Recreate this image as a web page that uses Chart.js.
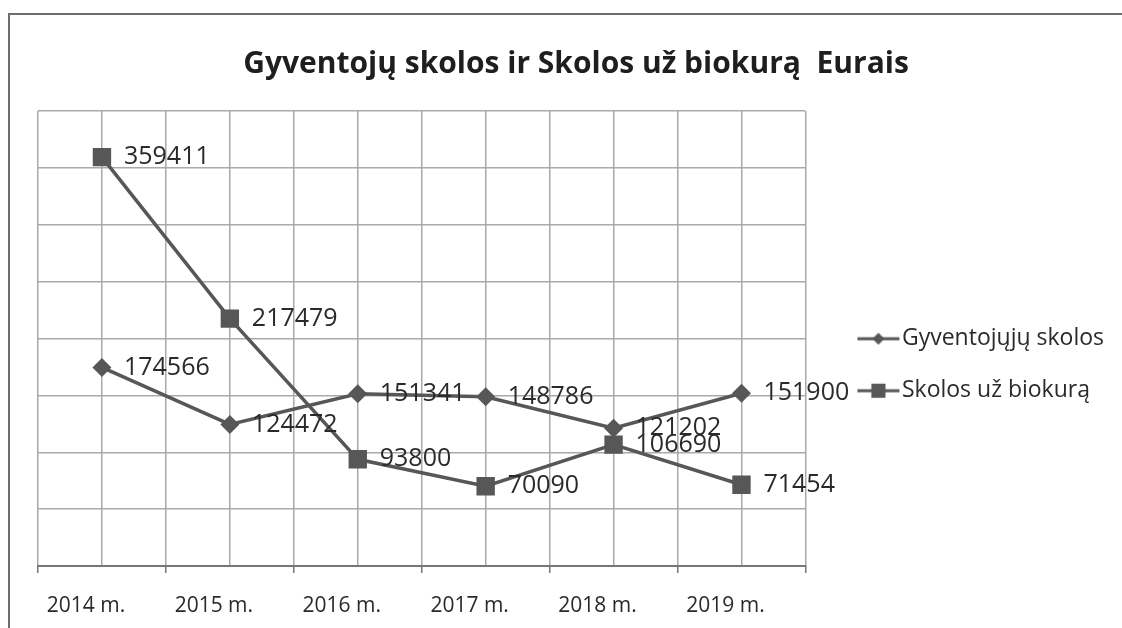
<!DOCTYPE html>
<html lang="lt">
<head>
<meta charset="utf-8">
<title>Gyventojų skolos ir Skolos už biokurą</title>
<script src="https://cdn.jsdelivr.net/npm/chart.js@4.4.1/dist/chart.umd.min.js"></script>
<style>
  html, body { margin: 0; padding: 0; background: #fff; }
  #wrap { position: relative; width: 1122px; height: 628px; overflow: hidden; }
  #frame { position: absolute; left: 8px; top: 13px; right: -4px; bottom: -4px;
           border-left: 2px solid #6e6e6e; border-top: 2px solid #6e6e6e; }
  #chart { position: absolute; left: 0; top: 0; }
</style>
</head>
<body>
<div id="wrap">
  <div id="frame"></div>
  <canvas id="chart" width="1122" height="628"></canvas>
</div>
<script>
// duomenys
const metai = ["2014 m.", "2015 m.", "2016 m.", "2017 m.", "2018 m.", "2019 m."];
const gyventojuSkolos = [174566, 124472, 151341, 148786, 121202, 151900];
const biokuroSkolos = [359411, 217479, 93800, 70090, 106690, 71454];
const serijuPavadinimai = ["Gyventojųjų skolos", "Skolos už biokurą"];
const yMin = 0;
const yMax = 400000;
const yZingsnis = 50000;

const linijosSpalva = "#575757";
const tinkloSpalva = "#a9a9a9";
const tekstoSpalva = "#2a2a2a";
const srift = "'Open Sans', 'DejaVu Sans', sans-serif";

Chart.defaults.font.family = srift;
Chart.defaults.color = tekstoSpalva;

// legendos ženkliukas: linija su tašku viduryje
function legendosZenklas(stilius, spindulys) {
  const c = document.createElement("canvas");
  c.width = 80;
  c.height = 24;
  const g = c.getContext("2d");
  g.strokeStyle = linijosSpalva;
  g.lineWidth = 3;
  g.beginPath();
  g.moveTo(35, 12);
  g.lineTo(77, 12);
  g.stroke();
  g.fillStyle = linijosSpalva;
  Chart.helpers.drawPoint(g, { pointStyle: stilius, radius: spindulys, borderWidth: 0 }, 56, 12);
  return c;
}

// reikšmės šalia taškų
const reiksmiuEtiketes = {
  id: "reiksmiuEtiketes",
  afterDatasetsDraw(chart) {
    const ctx = chart.ctx;
    ctx.save();
    ctx.font = "25px " + srift;
    ctx.fillStyle = tekstoSpalva;
    ctx.textAlign = "left";
    ctx.textBaseline = "middle";
    chart.data.datasets.forEach((ds, i) => {
      chart.getDatasetMeta(i).data.forEach((pt, j) => {
        ctx.fillText(String(ds.data[j]), pt.x + 22, pt.y);
      });
    });
    ctx.restore();
  }
};

const ctx = document.getElementById("chart").getContext("2d");
new Chart(ctx, {
  type: "line",
  data: {
    labels: metai,
    datasets: [
      {
        label: serijuPavadinimai[0],
        data: gyventojuSkolos,
        borderColor: linijosSpalva,
        backgroundColor: linijosSpalva,
        borderWidth: 3.5,
        pointStyle: "rectRot",
        pointRadius: 9.5,
        pointBorderWidth: 0,
        tension: 0,
        _zenklas: legendosZenklas("rectRot", 6)
      },
      {
        label: serijuPavadinimai[1],
        data: biokuroSkolos,
        borderColor: linijosSpalva,
        backgroundColor: linijosSpalva,
        borderWidth: 3.5,
        pointStyle: "rect",
        pointRadius: 13,
        pointBorderWidth: 0,
        tension: 0,
        _zenklas: legendosZenklas("rect", 10)
      }
    ]
  },
  options: {
    responsive: false,
    animation: false,
    layout: { padding: { left: 38, right: 8, top: 0, bottom: 10 } },
    plugins: {
      title: {
        display: true,
        text: "Gyventojų skolos ir Skolos už biokurą  Eurais",
        color: "#1e1e1e",
        font: { size: 30, weight: "bold" },
        padding: { top: 46, bottom: 29 }
      },
      legend: {
        position: "right",
        maxWidth: 340,
        title: { display: true, text: "", padding: { top: 97, bottom: 0 } },
        labels: {
          usePointStyle: true,
          pointStyleWidth: 56,
          padding: 29,
          color: tekstoSpalva,
          font: { size: 23 },
          generateLabels(chart) {
            return chart.data.datasets.map((ds, i) => ({
              text: ds.label,
              pointStyle: ds._zenklas,
              fillStyle: linijosSpalva,
              strokeStyle: linijosSpalva,
              lineWidth: 0,
              fontColor: tekstoSpalva,
              hidden: false,
              datasetIndex: i
            }));
          }
        }
      },
      tooltip: { enabled: false }
    },
    scales: {
      x: {
        type: "category",
        offset: true,
        grid: { offset: true, color: tinkloSpalva, lineWidth: 1.5, tickLength: 7, tickColor: "#777" },
        border: { color: "#777", width: 2 },
        ticks: { padding: 20, labelOffset: -16, font: { size: 21 }, color: tekstoSpalva },
        afterFit(scale) { scale.height = 52; }
      },
      x2: {
        type: "category",
        labels: metai,
        offset: true,
        position: "bottom",
        grid: { offset: false, color: tinkloSpalva, lineWidth: 1.5, drawTicks: false },
        border: { display: false },
        ticks: { display: false }
      },
      y: {
        min: yMin,
        max: yMax,
        ticks: { display: false, stepSize: yZingsnis },
        grid: { color: tinkloSpalva, lineWidth: 1.5, drawTicks: false },
        border: { display: false }
      }
    }
  },
  plugins: [reiksmiuEtiketes]
});
</script>
</body>
</html>
